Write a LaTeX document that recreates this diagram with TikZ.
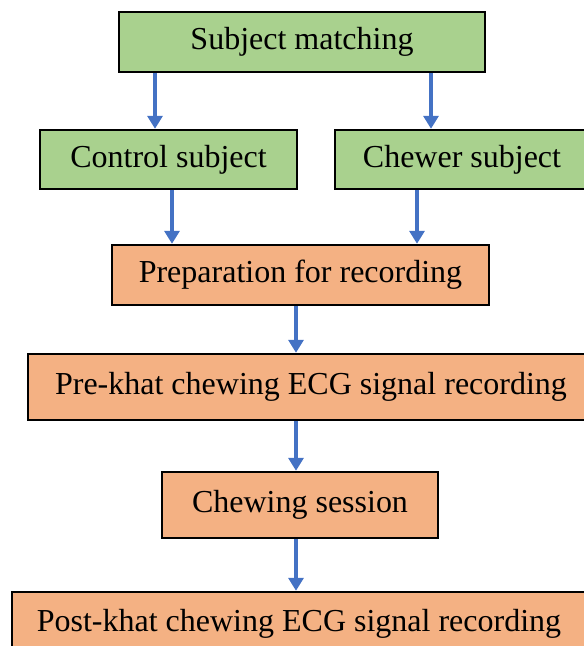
\documentclass[tikz,border=0pt]{standalone}
\usepackage{fontspec}
\newfontfamily\stagefont{Liberation Serif}
\usepackage{tikz}
\usetikzlibrary{arrows.meta,calc}
\definecolor{boxgreen}{HTML}{A9D18E}
\definecolor{boxorange}{HTML}{F4B183}
\definecolor{flowblue}{HTML}{4472C4}

\begin{document}
\begin{tikzpicture}[x=1pt,y=-1pt]
\tikzstyle{stage}=[draw=black,line width=2.4pt,inner sep=0pt,
  font=\stagefont\fontsize{32}{36}\selectfont]
\tikzstyle{group}=[stage,fill=boxgreen]
\tikzstyle{task}=[stage,fill=boxorange]
\tikzstyle{flow}=[draw=flowblue,line width=3.6pt,
  -{Triangle[width=15pt,length=13pt]}]

\useasboundingbox (0,0) rectangle (584,646);

% subjects
\node[group,minimum width=366pt,minimum height=60pt] (match) at (302,42) {Subject matching};
\node[group,minimum width=257pt,minimum height=59pt] (control) at (168.5,159.5) {Control subject};
\node[group,minimum width=254pt,minimum height=59pt] (chewer) at (462,159.5) {Chewer subject};

% recording steps
\node[task,minimum width=377pt,minimum height=60pt] (prep) at (300.5,275) {Preparation for recording};
\node[task,minimum width=566pt,minimum height=66pt] (pre) at (311,387) {Pre-khat chewing ECG signal recording};
\node[task,minimum width=276pt,minimum height=66pt] (session) at (300,505) {Chewing session};
\node[task,minimum width=574pt,minimum height=64pt] (post) at (299,624) {Post-khat chewing ECG signal recording};

\draw[flow] ([xshift=-147pt]match.south) -- ([xshift=-147pt]match.south |- control.north);
\draw[flow] ([xshift=129pt]match.south) -- ([xshift=129pt]match.south |- chewer.north);
\draw[flow] ([xshift=3.5pt]control.south) -- ([xshift=3.5pt]control.south |- prep.north);
\draw[flow] ([xshift=-45pt]chewer.south) -- ([xshift=-45pt]chewer.south |- prep.north);
\draw[flow] ([xshift=-4.5pt]prep.south) -- ([xshift=-4.5pt]prep.south |- pre.north);
\draw[flow] ([xshift=-4pt]session.north |- pre.south) -- ([xshift=-4pt]session.north);
\draw[flow] ([xshift=-4pt]session.south) -- ([xshift=-4pt]session.south |- post.north);
\end{tikzpicture}
\end{document}
